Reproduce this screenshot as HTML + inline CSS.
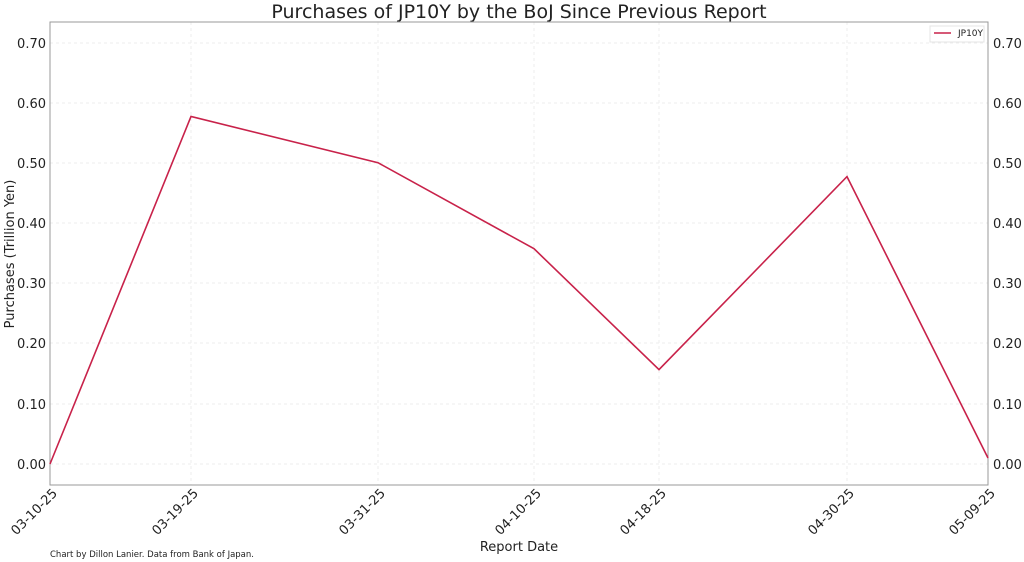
<!DOCTYPE html>
<html><head><meta charset="utf-8"><style>body{margin:0;background:#fff}svg{display:block}text{font-family:"DejaVu Sans","Liberation Sans",sans-serif;fill:#222}</style></head><body>
<svg width="1024" height="562" viewBox="0 0 1024 562">
<text x="519" y="18" font-size="19" text-anchor="middle">Purchases of JP10Y by the BoJ Since Previous Report</text>
<g stroke="#eee" stroke-dasharray="3,3" stroke-width="1">
<line x1="50" x2="988" y1="43" y2="43"/><line x1="50" x2="988" y1="103" y2="103"/><line x1="50" x2="988" y1="163" y2="163"/><line x1="50" x2="988" y1="223" y2="223"/><line x1="50" x2="988" y1="283" y2="283"/><line x1="50" x2="988" y1="343" y2="343"/><line x1="50" x2="988" y1="404" y2="404"/><line x1="50" x2="988" y1="464" y2="464"/>
<line y1="22" y2="485" x1="191" x2="191"/><line y1="22" y2="485" x1="378" x2="378"/><line y1="22" y2="485" x1="534" x2="534"/><line y1="22" y2="485" x1="659" x2="659"/><line y1="22" y2="485" x1="847" x2="847"/>
</g>
<rect x="50" y="22" width="938" height="463" fill="none" stroke="#999" stroke-width="1"/>
<polyline fill="none" stroke="#c8224a" stroke-width="1.6" points="50,464 191,116.5 378,162.7 534,248.7 659,369.6 847,176.6 988,458"/>
<g font-size="13" text-anchor="end">
<text x="46" y="48">0.70</text><text x="46" y="108">0.60</text><text x="46" y="168">0.50</text><text x="46" y="228">0.40</text><text x="46" y="288">0.30</text><text x="46" y="348">0.20</text><text x="46" y="409">0.10</text><text x="46" y="469">0.00</text>
</g>
<g font-size="13">
<text x="993" y="48">0.70</text><text x="993" y="108">0.60</text><text x="993" y="168">0.50</text><text x="993" y="228">0.40</text><text x="993" y="288">0.30</text><text x="993" y="348">0.20</text><text x="993" y="409">0.10</text><text x="993" y="469">0.00</text>
</g>
<g font-size="13" text-anchor="end">
<text transform="translate(58,494) rotate(-45)">03-10-25</text>
<text transform="translate(199,494) rotate(-45)">03-19-25</text>
<text transform="translate(386,494) rotate(-45)">03-31-25</text>
<text transform="translate(542,494) rotate(-45)">04-10-25</text>
<text transform="translate(667,494) rotate(-45)">04-18-25</text>
<text transform="translate(855,494) rotate(-45)">04-30-25</text>
<text transform="translate(996,494) rotate(-45)">05-09-25</text>
</g>
<text x="519" y="551" font-size="13" text-anchor="middle">Report Date</text>
<text transform="translate(14,254) rotate(-90)" font-size="13" text-anchor="middle">Purchases  (Trillion Yen)</text>
<text x="50" y="557" font-size="8.5">Chart by Dillon Lanier. Data from Bank of Japan.</text>
<rect x="930" y="26" width="54" height="16" fill="#fff" stroke="#e4e4e4"/>
<line x1="934" x2="951" y1="33" y2="33" stroke="#c8224a" stroke-width="1.6"/>
<text x="958" y="36" font-size="9">JP10Y</text>
</svg>
</body></html>
